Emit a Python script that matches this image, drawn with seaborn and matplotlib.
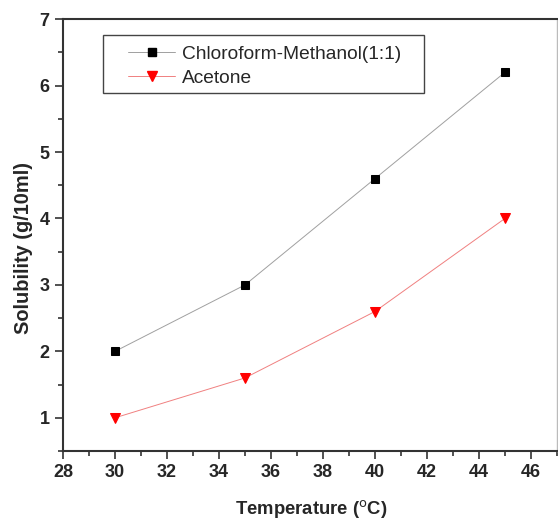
import pandas as pd
import matplotlib
matplotlib.use('Agg')
import matplotlib.pyplot as plt
import seaborn as sns
from matplotlib.ticker import MultipleLocator
from matplotlib.patches import Rectangle

# values
temperature = [30, 35, 40, 45]
chloroform_methanol = [2.0, 3.0, 4.6, 6.2]
acetone = [1.0, 1.6, 2.6, 4.0]
series_names = ['Chloroform-Methanol(1:1)', 'Acetone']

df = pd.DataFrame({
    'Temperature': temperature * 2,
    'Solubility': chloroform_methanol + acetone,
    'Solvent': [series_names[0]] * 4 + [series_names[1]] * 4,
})

sns.set_style('ticks')
plt.rcParams['font.family'] = ['Liberation Sans', 'DejaVu Sans']

line_cols = {series_names[0]: '#a0a0a0', series_names[1]: '#f08080'}
mark_cols = ['black', 'red']

fig = plt.figure(figsize=(5.58, 5.19), dpi=100)
ax = fig.add_axes([0.113, 0.131, 0.885, 0.832])

sns.lineplot(data=df, x='Temperature', y='Solubility', hue='Solvent', style='Solvent',
             palette=line_cols, markers={series_names[0]: 's', series_names[1]: 'v'},
             dashes=False, linewidth=0.7, ax=ax, legend=False)

for line, mc, ms in zip(ax.get_lines(), mark_cols, [5.2, 7.5]):
    line.set_markerfacecolor(mc)
    line.set_markeredgecolor(mc)
    line.set_markersize(ms)

# legend: entries without frame + a separate box like the original
ax.plot([], [], color=line_cols[series_names[0]], lw=0.7, marker='s', mfc='black', mec='black', ms=5.2, label=series_names[0])
ax.plot([], [], color=line_cols[series_names[1]], lw=0.7, marker='v', mfc='red', mec='red', ms=7.5, label=series_names[1])
leg = ax.legend(loc='upper left', bbox_to_anchor=(0.1316, 0.939), fontsize=13.8, frameon=False,
                borderpad=0, borderaxespad=0, handlelength=2.45, labelspacing=0.33,
                handletextpad=0.35)
ax.add_patch(Rectangle((0.081, 0.829), 0.65, 0.134, transform=ax.transAxes, fill=False,
                       edgecolor='#444444', linewidth=1.0, zorder=5))

ax.set_xlim(28, 47)
ax.set_ylim(0.5, 7)
ax.xaxis.set_major_locator(MultipleLocator(2))
ax.xaxis.set_minor_locator(MultipleLocator(1))
ax.yaxis.set_major_locator(MultipleLocator(1))
ax.yaxis.set_minor_locator(MultipleLocator(0.5))
ax.tick_params(which='major', direction='out', length=5.8, width=1.2, labelsize=13, pad=3.8,
               color='#333333')
ax.tick_params(which='minor', direction='out', length=3.6, width=1.2, color='#333333')
for lab in ax.get_xticklabels() + ax.get_yticklabels():
    lab.set_fontweight('bold')
for side in ['left', 'bottom', 'top']:
    ax.spines[side].set_linewidth(1.5)
    ax.spines[side].set_color('#333333')
ax.spines['right'].set_linewidth(1.0)
ax.spines['right'].set_color('#bbbbbb')

ax.set_xlabel('Temperature ($^{\\mathrm{o}}$C)', fontsize=13.3, fontweight='bold')
ax.set_ylabel('Solubility (g/10ml)', fontsize=14.4, fontweight='bold')
ax.xaxis.set_label_coords(0.502, -0.108)
ax.yaxis.set_label_coords(-0.06, 0.47)

fig.savefig('out.png', dpi=100)
